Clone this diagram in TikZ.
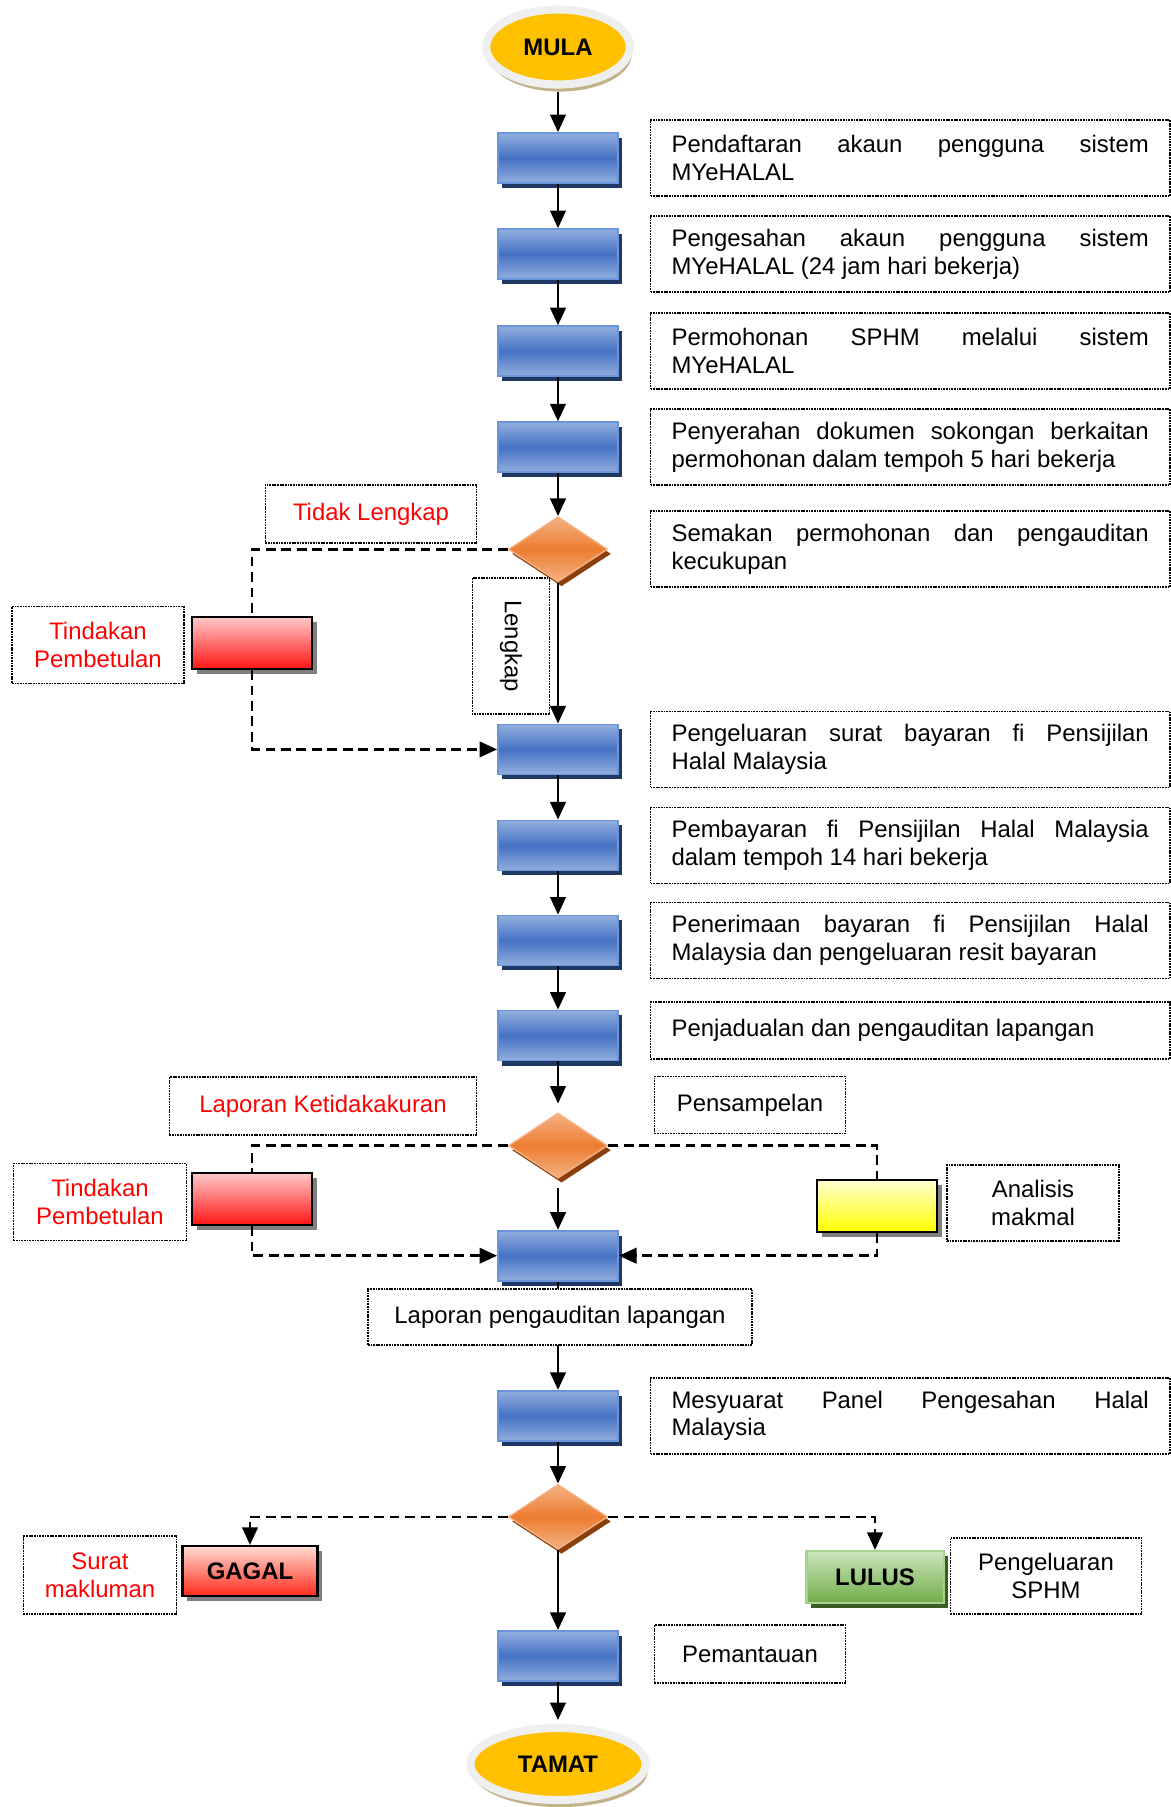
\documentclass[tikz,border=0pt]{standalone}
\usepackage{fontspec}
\setmainfont{Liberation Sans}
\usetikzlibrary{arrows.meta}
\usetikzlibrary{positioning}
\usetikzlibrary{shapes,shapes.geometric,shadows}

\definecolor{mulayellow}{HTML}{FFC000}
\definecolor{rimgray}{HTML}{EFEFEF}
\definecolor{rimtan}{HTML}{C2B287}
\definecolor{procblue}{HTML}{4472C4}
\definecolor{proclight}{HTML}{93AEDE}
\definecolor{procedge}{HTML}{6A94DC}
\definecolor{procshadow}{HTML}{203864}
\definecolor{diaorange}{HTML}{ED7D31}
\definecolor{dialight}{HTML}{F4B183}
\definecolor{diashadow}{HTML}{8A3F0D}
\definecolor{fixtop}{HTML}{FFCACA}
\definecolor{fixbot}{HTML}{FF1414}
\definecolor{labtop}{HTML}{FFFFD2}
\definecolor{labbot}{HTML}{FFFF00}
\definecolor{failtop}{HTML}{FFDCD4}
\definecolor{failbot}{HTML}{FF2A1A}
\definecolor{passtop}{HTML}{CDE5BD}
\definecolor{passbot}{HTML}{70AD47}
\definecolor{passedge}{HTML}{A9D18E}
\definecolor{passshadow}{HTML}{3A5D23}
\definecolor{boxshadow}{HTML}{7F7F7F}

\tolerance=10000

\tikzset{
  terminal/.style={ellipse, fill=mulayellow, draw=rimgray, line width=2.3pt, inner sep=0pt,
    font=\fontsize{6.8}{7.9}\selectfont\bfseries,
    drop shadow={shadow xshift=0.6pt, shadow yshift=-2pt, fill=rimtan, opacity=1}},
  proc/.style={rectangle, minimum width=1.2cm, minimum height=0.5cm, inner sep=0pt,
    top color=proclight, bottom color=proclight, middle color=procblue,
    draw=procedge, line width=0.5pt,
    drop shadow={shadow xshift=1.2pt, shadow yshift=-1.4pt, fill=procshadow, opacity=1}},
  decision/.style={diamond, minimum width=0.99cm, minimum height=0.65cm, inner sep=0pt,
    top color=dialight, bottom color=dialight, middle color=diaorange,
    draw=dialight, line width=0.4pt,
    drop shadow={shadow xshift=1pt, shadow yshift=-1.3pt, fill=diashadow, opacity=1}},
  grayshadow/.style={drop shadow={shadow xshift=1.4pt, shadow yshift=-1.4pt, fill=boxshadow, opacity=1}},
  sidebox/.style={rectangle, minimum width=1.2cm, minimum height=0.52cm, inner sep=0pt,
    draw=black, line width=0.6pt},
  fixbox/.style={sidebox, grayshadow, top color=fixtop, bottom color=fixbot},
  labbox/.style={sidebox, grayshadow, top color=labtop, bottom color=labbot},
  failbox/.style={sidebox, grayshadow, minimum width=1.35cm, minimum height=0.5cm,
    top color=failtop, bottom color=failbot, font=\fontsize{6.8}{7.9}\selectfont\bfseries},
  passbox/.style={sidebox, minimum width=1.37cm, minimum height=0.52cm,
    top color=passtop, bottom color=passbot, draw=passedge,
    font=\fontsize{6.8}{7.9}\selectfont\bfseries,
    drop shadow={shadow xshift=1.4pt, shadow yshift=-1.4pt, fill=passshadow, opacity=1}},
  note/.style={draw=black, dash pattern=on 0.5pt off 0.25pt, line width=0.5pt,
    fill=white, inner sep=0pt, align=center},
  desc/.style={note, text width=4.77cm, inner xsep=0.21cm, inner ysep=0.05cm,
    minimum height=0.76cm, align=justify},
  rednote/.style={note, text=red},
  dashflow/.style={dash pattern=on 2.8pt off 1.6pt}
}

\begin{document}
\begin{tikzpicture}[-,>={Triangle[length=5pt,width=4.4pt]},x=0.01cm,y=-0.01cm,line width=0.75pt,
  font=\fontsize{6.8}{7.9}\selectfont]
\useasboundingbox (0,0) rectangle (1171,1807);

% aliran utama
\node[terminal, minimum width=1.435cm, minimum height=0.75cm] (mula) at (558,47) {MULA};
\node[proc, node distance=1.11cm] (b1) [below of = mula] {};
\node[proc, node distance=0.96cm] (b2) [below of = b1] {};
\node[proc, node distance=0.97cm] (b3) [below of = b2] {};
\node[proc, node distance=0.96cm] (b4) [below of = b3] {};
\node[decision, node distance=1.02cm] (d1) [below of = b4] {};
\node[proc, node distance=2cm] (b5) [below of = d1] {};
\node[proc, node distance=0.96cm] (b6) [below of = b5] {};
\node[proc, node distance=0.95cm] (b7) [below of = b6] {};
\node[proc, node distance=0.95cm] (b8) [below of = b7] {};
\node[decision, node distance=1.1cm] (d2) [below of = b8] {};
\node[proc, node distance=1.1cm] (b9) [below of = d2] {};
\node[proc, node distance=1.6cm] (b10) [below of = b9] {};
\node[decision, node distance=1.01cm] (d3) [below of = b10] {};
\node[proc, node distance=1.39cm] (b11) [below of = d3] {};
\node[terminal, minimum width=1.75cm, minimum height=0.72cm, node distance=1.08cm] (tamat) [below of = b11] {TAMAT};

% keterangan
\node[desc, node distance=3.52cm] (t1) [right of = b1] {Pendaftaran akaun pengguna sistem\linebreak MYeHALAL};
\node[desc, node distance=3.52cm] (t2) [right of = b2] {Pengesahan akaun pengguna sistem\linebreak MYeHALAL (24 jam hari bekerja)};
\node[desc, node distance=3.52cm] (t3) [right of = b3] {Permohonan SPHM melalui sistem\linebreak MYeHALAL};
\node[desc, node distance=3.52cm] (t4) [right of = b4] {Penyerahan dokumen sokongan berkaitan\linebreak permohonan dalam tempoh 5 hari bekerja};
\node[desc, node distance=3.52cm] (t5) [right of = d1] {Semakan permohonan dan pengauditan\linebreak kecukupan};
\node[desc, node distance=3.52cm] (t6) [right of = b5] {Pengeluaran surat bayaran fi Pensijilan\linebreak Halal Malaysia};
\node[desc, node distance=3.52cm] (t7) [right of = b6] {Pembayaran fi Pensijilan Halal Malaysia\linebreak dalam tempoh 14 hari bekerja};
\node[desc, node distance=3.52cm] (t8) [right of = b7] {Penerimaan bayaran fi Pensijilan Halal\linebreak Malaysia dan pengeluaran resit bayaran};
\node[desc, node distance=3.52cm, minimum height=0.57cm, yshift=1.4pt] (t9) [right of = b8] {Penjadualan dan pengauditan lapangan};
\node[desc, node distance=3.52cm] (t10) [right of = b10] {Mesyuarat Panel Pengesahan Halal\linebreak Malaysia};
\node[note, minimum width=1.91cm, minimum height=0.57cm] (ps) at (750,1105) {Pensampelan};
\node[note, minimum width=1.72cm, minimum height=0.76cm] (am) at (1033,1203) {Analisis\\makmal};
\node[note, minimum width=1.91cm, minimum height=0.76cm] (sp) at (1046,1576) {Pengeluaran\\SPHM};
\node[note, minimum width=1.91cm, minimum height=0.58cm] (pm) at (750,1654) {Pemantauan};
\node[note, rotate=-90, minimum width=1.36cm, minimum height=0.77cm] (lengkap) at (511,646) {Lengkap};

% cabang kiri dan kanan
\node[rednote, minimum width=2.11cm, minimum height=0.58cm] (tl) at (371,514) {Tidak Lengkap};
\node[rednote, minimum width=1.72cm, minimum height=0.77cm] (tp1) at (98,645) {Tindakan\\Pembetulan};
\node[fixbox] (r1) at (252,643) {};
\node[rednote, minimum width=3.07cm, minimum height=0.58cm] (lk) at (323,1106) {Laporan Ketidakakuran};
\node[rednote, minimum width=1.73cm, minimum height=0.77cm] (tp2) at (100,1202) {Tindakan\\Pembetulan};
\node[fixbox] (r2) at (252,1199) {};
\node[labbox] (y1) at (877,1206) {};
\node[rednote, minimum width=1.53cm, minimum height=0.78cm] (sm) at (100,1575) {Surat\\makluman};
\node[failbox] (gagal) at (250,1571) {GAGAL};
\node[passbox] (lulus) at (875,1577) {LULUS};

\draw[->, shorten <=1.1pt] (mula) -- (b1);
\draw[->] (b1) -- (b2);
\draw[->] (b2) -- (b3);
\draw[->] (b3) -- (b4);
\draw[->] (b4) -- (d1);
\draw[->] (d1) -- (b5);
\draw[->] (b5) -- (b6);
\draw[->] (b6) -- (b7);
\draw[->] (b7) -- (b8);
\draw[->, shorten >=2.5pt] (b8) -- (d2);
\draw[->, shorten <=2.5pt] (d2) -- (b9);
\draw[->] (b9) -- (b10);
\draw[->] (b10) -- (d3);
\draw[->] (d3) -- (b11);
\draw[->, shorten >=1.1pt] (b11) -- (tamat);

\node[note, minimum width=3.84cm, minimum height=0.56cm] (lp) at (560,1317) {Laporan pengauditan lapangan};

\draw[dashflow] (d1.west) -| (r1.north);
\draw[dashflow, ->] (r1.south) |- (b5.west);
\draw[dashflow] (d2.west) -| (r2.north);
\draw[dashflow, ->] (r2.south) |- (b9.west);
\draw[dashflow] (d2.east) -| (y1.north);
\draw[dashflow, ->] (y1.south) |- (b9.east);
\draw[dashflow, ->] (d3.west) -| (gagal.north);
\draw[dashflow, ->] (d3.east) -| (lulus.north);
\end{tikzpicture}
\end{document}
